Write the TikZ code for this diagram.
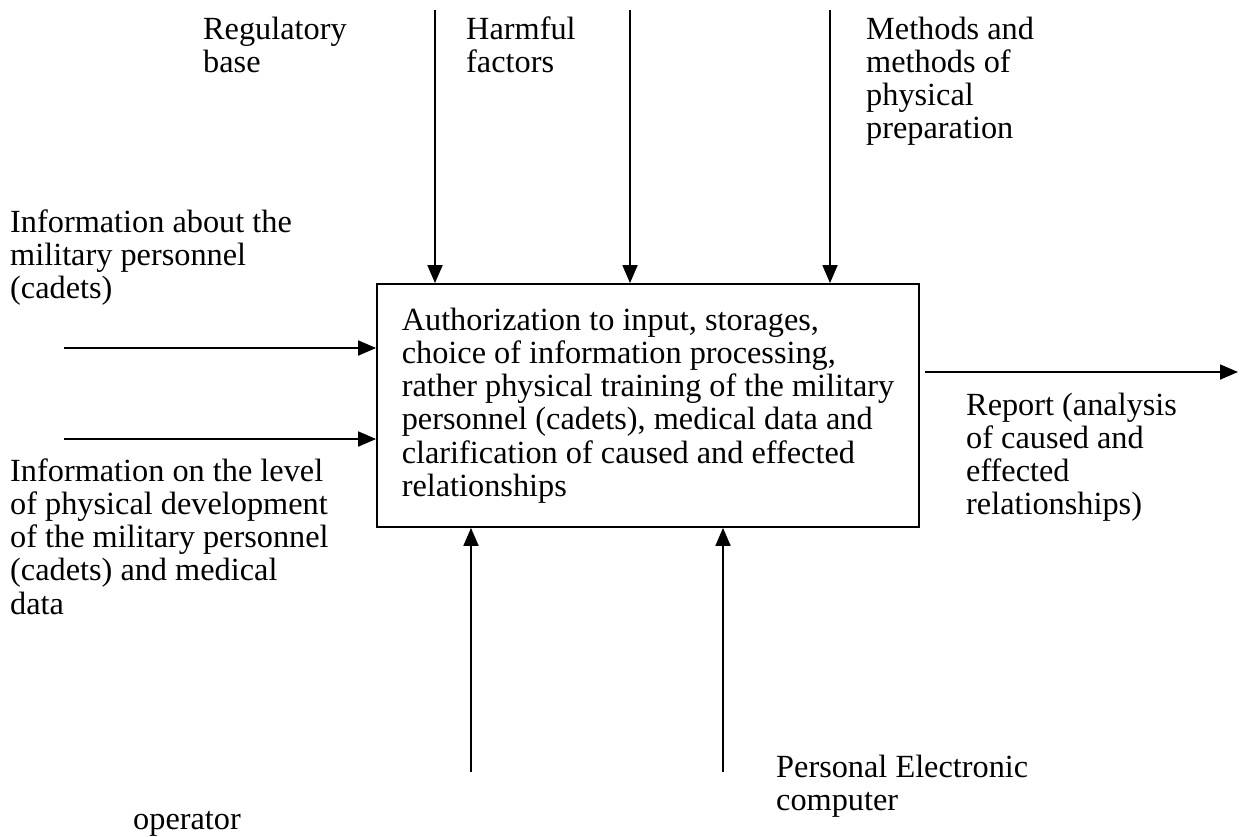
\documentclass[tikz,border=0pt]{standalone}
\usepackage{fontspec}
\setmainfont{Liberation Serif}
\usetikzlibrary{arrows.meta}
\newcommand{\lns}[1]{\begin{tabular}[t]{@{}l@{}}#1\end{tabular}}
\tikzset{
  lbl/.style={anchor=base west, inner sep=0pt, font=\fontsize{32.3}{33.3}\selectfont},
  flow/.style={line width=1.8pt, -{Triangle[length=18pt,width=15pt]}},
  mainbox/.style={draw, line width=1.8pt, minimum width=542pt, minimum height=243pt, align=left, inner sep=0pt, font=\fontsize{32.3}{33.3}\selectfont}
}
\begin{document}
\begin{tikzpicture}[x=1pt,y=-1pt]
\useasboundingbox (0,0) rectangle (1242,836);
\node[mainbox] (box) at (648,405.5) {Authorization to input, storages,\\choice of information processing,\\rather physical training of the military\\personnel (cadets), medical data and\\clarification of caused and effected\\relationships};
\node[lbl] (reg) at (203,39) {\lns{Regulatory\\base}};
\node[lbl] (harm) at (466,39) {\lns{Harmful\\factors}};
\node[lbl] (meth) at (866,39) {\lns{Methods and\\methods of\\physical\\preparation}};
\node[lbl] (info1) at (10,232) {\lns{Information about the\\military personnel\\(cadets)}};
\node[lbl] (info2) at (10,481) {\lns{Information on the level\\of physical development\\of the military personnel\\(cadets) and medical\\data}};
\node[lbl] (rep) at (966,415) {\lns{Report (analysis\\of caused and\\effected\\relationships)}};
\node[lbl] (pc) at (776,777) {\lns{Personal Electronic\\computer}};
\node[lbl] (op) at (133,829) {operator};
\coordinate (d1) at (435,10);
\coordinate (d2) at (630,10);
\coordinate (d3) at (830,10);
\coordinate (l1) at (64,348);
\coordinate (l2) at (64,439);
\coordinate (u1) at (471,772);
\coordinate (u2) at (723,772);
\coordinate (r0) at (925,372);
\coordinate (r1) at (1238,372);
\draw[flow] (d1) -- (d1 |- box.north);
\draw[flow] (d2) -- (d2 |- box.north);
\draw[flow] (d3) -- (d3 |- box.north);
\draw[flow] (l1) -- (l1 -| box.west);
\draw[flow] (l2) -- (l2 -| box.west);
\draw[flow] (u1) -- (u1 |- box.south);
\draw[flow] (u2) -- (u2 |- box.south);
\draw[flow] (r0) -- (r1);
\end{tikzpicture}
\end{document}
